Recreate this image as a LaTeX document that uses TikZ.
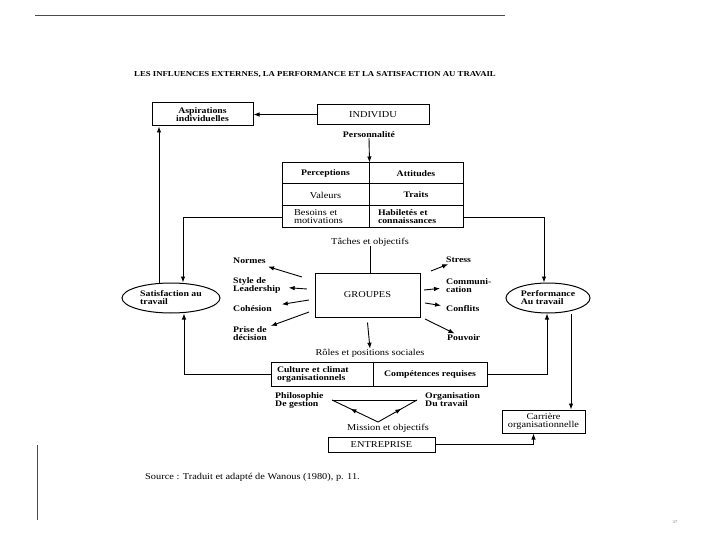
\documentclass[tikz,border=0pt]{standalone}
\usepackage{fontspec}
\setmainfont{Liberation Serif}[FakeStretch = 1.15]
\usepackage{tikz}
\usetikzlibrary{arrows.meta}
\usetikzlibrary{positioning, shapes.geometric, calc}
\tikzset{
plain box/.style = { rectangle, draw = black, fill = white, line width = 1pt, inner sep = 2pt, align = center, font = \fontsize{9}{8}\selectfont },
cell/.style = { rectangle, draw = black, line width = 1pt, inner sep = 2pt, align = center, font = \fontsize{9}{8}\selectfont },
oval/.style = { ellipse, draw = black, line width = 1pt, minimum height = 30pt, inner sep = 0pt, align = left, font = \fontsize{8.5}{8}\selectfont\bfseries },
tag/.style = { inner sep = 0pt, align = left, font = \fontsize{9}{8}\selectfont },
strong/.style = { font = \fontsize{8.5}{8}\selectfont\bfseries },
link/.style = { line width = 0.9pt, -{Latex[length = 6pt, width = 4.5pt]} },
plain link/.style = { line width = 0.9pt },
}

\begin{document}
\begin{tikzpicture}[x = 1pt, y = -1pt]
      \useasboundingbox (0, 0) rectangle (720, 540);
      % page marks
      \draw[line width = 0.8pt, black!70] (35, 15) -- (505, 15);
      \draw[line width = 0.8pt, black!70] (37, 445) -- (37, 520);
      \node[tag, font = \fontsize{7.6}{8}\selectfont\bfseries] (title) at (315, 75) {LES INFLUENCES EXTERNES, LA PERFORMANCE ET LA SATISFACTION AU TRAVAIL};

      % individu
      \node[plain box, strong, minimum width = 101pt, minimum height = 23pt] (asp) at (202.5, 114.5) {Aspirations\\individuelles};
      \node[plain box, minimum width = 112pt, minimum height = 20pt] (ind) at (373, 114.5) {INDIVIDU};
      \node[tag, strong] (pers) at (369, 135) {Personnalité};

      % personality table
      \node[cell, strong, minimum width = 87pt, minimum height = 21pt] (c11) at (325.5, 173.5) {Perceptions};
      \node[cell, strong, minimum width = 94pt, minimum height = 21pt] (c12) at (416, 173.5) {Attitudes};
      \node[cell, minimum width = 87pt, minimum height = 22pt] (c21) at (325.5, 195) {Valeurs};
      \node[cell, strong, minimum width = 94pt, minimum height = 22pt] (c22) at (416, 195) {Traits};
      \node[cell, minimum height = 22pt, inner xsep = 12pt, text width = 63pt, align = left] (c31) at (325.5, 217) {Besoins et\\motivations};
      \node[cell, strong, minimum height = 22pt, inner xsep = 9pt, text width = 76pt, align = left] (c32) at (416, 217) {Habiletés et\\connaissances};

      % groupes
      \node[tag] (taches) at (370, 242) {Tâches et objectifs};
      \node[plain box, minimum width = 105pt, minimum height = 44pt] (grp) at (367.5, 295) {GROUPES};
      \node[tag] (roles) at (370, 353) {Rôles et positions sociales};

      \node[tag, strong, anchor = west] (norm) at (233, 261) {Normes};
      \node[tag, strong, anchor = west] (lead) at (233, 285.5) {Style de\\Leadership};
      \node[tag, strong, anchor = west] (coh) at (233, 309) {Cohésion};
      \node[tag, strong, anchor = west] (prise) at (233, 333.5) {Prise de\\décision};
      \node[tag, strong, anchor = west] (stress) at (446, 260) {Stress};
      \node[tag, strong, anchor = west] (comm) at (446, 285.5) {Communi-\\cation};
      \node[tag, strong, anchor = west] (conf) at (446, 309) {Conflits};
      \node[tag, strong, anchor = west] (pouv) at (447, 338) {Pouvoir};

      \coordinate (g1) at (302, 277);
      \coordinate (g2) at (307, 289);
      \coordinate (g3) at (309, 300);
      \coordinate (g4) at (309, 312);
      \coordinate (g5) at (431, 271);
      \coordinate (g6) at (424, 290);
      \coordinate (g7) at (425, 303);
      \coordinate (g8) at (425, 319);

      % outcomes
      \node[oval, minimum width = 98pt] (sat) at (171, 298) {Satisfaction au\\travail};
      \node[oval, minimum width = 84pt] (perf) at (548, 298) {Performance\\Au travail};

      % entreprise
      \node[cell, strong, minimum width = 102pt, minimum height = 24pt, inner xsep = 6pt, text width = 90pt, align = left] (b1) at (322, 374) {Culture et climat\\organisationnels};
      \node[cell, strong, minimum width = 114pt, minimum height = 24pt] (b2) at (430, 374) {Compétences requises};

      \coordinate (tl) at (332, 400);
      \coordinate (tr) at (417, 400);
      \coordinate (bt) at (378, 422);
      \node[tag, strong, anchor = west] (philo) at (275, 400) {Philosophie\\De gestion};
      \node[tag, strong, anchor = west] (orga) at (425, 400) {Organisation\\Du travail};
      \node[tag] (mission) at (388, 428) {Mission et objectifs};
      \node[plain box, minimum width = 107pt, minimum height = 15pt] (ent) at (381.5, 444.5) {ENTREPRISE};
      \node[plain box, minimum width = 83pt, minimum height = 23pt] (car) at (543.5, 421.5) {Carrière\\organisationnelle};

      \node[tag, anchor = west] (source) at (145, 477) {Source : Traduit et adapté de Wanous (1980), p. 11.};
      \node[tag, font = \fontsize{4}{4}\selectfont, black!60] (page) at (675, 522) {37};

      % connectors
      \draw[link] (ind.west) -- (asp.east |- ind.west);
      \draw[link] (pers.south) -- (c11.north east);
      \draw[link] (c31.west) -| ([xshift = 12pt]sat.north);
      \draw[link] ([xshift = -12pt]sat.north) -- ([xshift = -12pt]sat.north |- asp.south);
      \draw[link] (c32.east) -| ([xshift = -4pt]perf.north);
      \draw[plain link] (taches.south) -- (grp.north -| taches.south);
      \draw[link] ([yshift = -5pt]grp.south) -- (roles.north);
      \draw[link] (b1.west) -| ([xshift = 13pt]sat.south);
      \draw[link] (b2.east) -| ([xshift = -1pt]perf.south);
      \draw[link] ([xshift = 23pt]perf.south) -- ([xshift = 23pt]perf.south |- car.north);
      \draw[link] (ent.east) -| ([xshift = -10pt]car.south);

      \draw[link, shorten >= 9pt] (g1) -- (norm);
      \draw[link, shorten >= 8pt] (g2) -- (lead);
      \draw[link, shorten >= 10pt] (g3) -- (coh);
      \draw[link, shorten >= 4pt] (g4) -- (prise);
      \draw[link, shorten >= 3pt] (g5) -- (stress);
      \draw[link, shorten >= 6pt] (g6) -- (comm);
      \draw[link, shorten >= 5pt] (g7) -- (conf);
      \draw[link, shorten >= 3pt] (g8) -- (pouv);

      % triangle
      \draw[plain link] (tl) -- (tr);
      \draw[link] (bt) -- ($(bt)!0.6!(tl)$);
      \draw[plain link] ($(bt)!0.5!(tl)$) -- (tl);
      \draw[link] (bt) -- ($(bt)!0.6!(tr)$);
      \draw[plain link] ($(bt)!0.5!(tr)$) -- (tr);
\end{tikzpicture}
\end{document}
